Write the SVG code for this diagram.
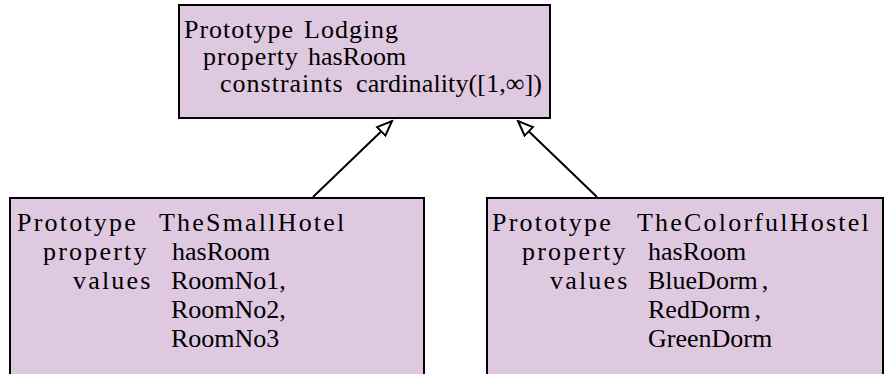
<svg xmlns="http://www.w3.org/2000/svg" width="885" height="374" viewBox="0 0 885 374">
<style>
.box{fill:#dfc9e1;stroke:#000;stroke-width:2}
text{font-family:"Liberation Serif","Times New Roman",serif;font-size:26px;fill:#000}
.k{letter-spacing:2.2px}
.t{letter-spacing:1px}
.edge{stroke:#000;stroke-width:2;fill:none;marker-end:url(#tri)}
</style>
<defs>
<marker id="tri" markerUnits="userSpaceOnUse" markerWidth="18" markerHeight="16" refX="16" refY="7" orient="auto" viewBox="0 0 18 14">
<path d="M1,1 L16,7 L1,13 Z" fill="#fff" stroke="#000" stroke-width="2" stroke-linejoin="miter"/>
</marker>
</defs>
<g id="connectors">
<line class="edge" x1="313" y1="197" x2="392" y2="121"/>
<line class="edge" x1="597" y1="197" x2="518" y2="121"/>
</g>
<g id="lodging">
<rect class="box" x="179" y="5" width="371" height="113"/>
<text x="184" y="38"><tspan class="t">Prototype</tspan><tspan class="t" x="304">Lodging</tspan></text>
<text x="203" y="65"><tspan class="t">property</tspan><tspan x="308">hasRoom</tspan></text>
<text x="220" y="92"><tspan class="t">constraints</tspan><tspan x="356" textLength="186" lengthAdjust="spacing">cardinality([1,∞])</tspan></text>
</g>
<g id="smallhotel">
<rect class="box" x="10" y="198" width="414" height="190"/>
<text x="17" y="231"><tspan class="k">Prototype</tspan><tspan class="k" x="159">TheSmallHotel</tspan></text>
<text x="43" y="260"><tspan class="k">property</tspan><tspan x="172">hasRoom</tspan></text>
<text x="73" y="289"><tspan class="k">values</tspan><tspan x="171">RoomNo1,</tspan></text>
<text x="171" y="318">RoomNo2,</text>
<text x="171" y="347">RoomNo3</text>
</g>
<g id="colorfulhostel">
<rect class="box" x="487" y="198" width="396" height="190"/>
<text x="492" y="231"><tspan class="k">Prototype</tspan><tspan class="k" x="637">TheColorfulHostel</tspan></text>
<text x="522" y="260"><tspan class="k">property</tspan><tspan x="648">hasRoom</tspan></text>
<text x="550" y="289"><tspan class="k">values</tspan><tspan x="648">BlueDorm</tspan><tspan dx="4">,</tspan></text>
<text x="648" y="318">RedDorm<tspan dx="4">,</tspan></text>
<text x="648" y="347">GreenDorm</text>
</g>
</svg>
